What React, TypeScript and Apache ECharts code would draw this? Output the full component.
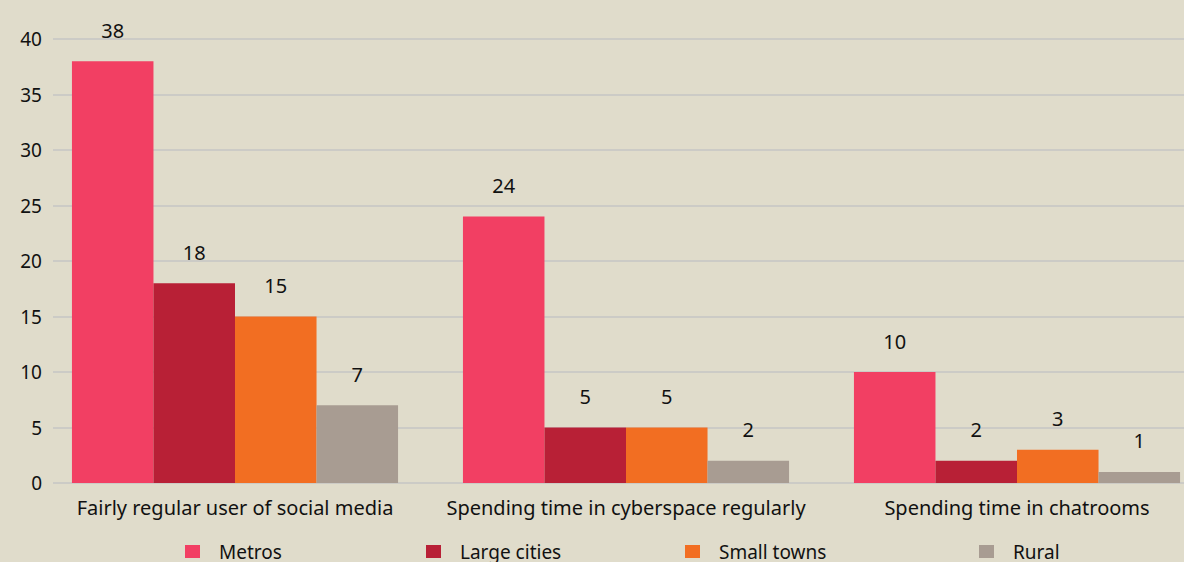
import React, { useEffect, useRef } from "react";
import * as echarts from "echarts";

const categories = [
  "Fairly regular user of social media",
  "Spending time in cyberspace regularly",
  "Spending time in chatrooms",
];
const seriesNames = ["Metros", "Large cities", "Small towns", "Rural"];
const metros = [38, 24, 10];
const largeCities = [18, 5, 2];
const smallTowns = [15, 5, 3];
const rural = [7, 2, 1];
const colors = ["#F23F63", "#B82036", "#F26E22", "#A89C92"];
const legendLefts = [185, 426, 685, 979];

const FONT = "Noto Sans";

export default function App() {
  const ref = useRef<HTMLDivElement>(null);
  useEffect(() => {
    document.body.style.margin = "0";
    const chart = echarts.init(ref.current!, null, { renderer: "svg" });
    const values = [metros, largeCities, smallTowns, rural];
    chart.setOption({
      animation: false,
      backgroundColor: "#E0DCCB",
      textStyle: { fontFamily: FONT },
      grid: [
        { left: 39.5, width: 1173, top: 39, bottom: 79, outerBoundsMode: "none", containLabel: false },
        { left: 53, right: 0, top: 39, bottom: 79, outerBoundsMode: "none", containLabel: false },
      ],
      xAxis: [
        {
          type: "category",
          gridIndex: 0,
          data: categories,
          axisLine: { show: false },
          axisTick: { show: false },
          axisLabel: { color: "#111", fontSize: 20, margin: 14, interval: 0, fontFamily: FONT },
        },
        {
          type: "category",
          gridIndex: 1,
          data: categories,
          show: false,
        },
      ],
      yAxis: [
        {
          type: "value",
          gridIndex: 0,
          min: 0,
          max: 40,
          interval: 5,
          show: false,
          splitLine: { show: false },
        },
        {
          type: "value",
          gridIndex: 1,
          min: 0,
          max: 40,
          interval: 5,
          axisLine: { show: false },
          axisTick: { show: false },
          axisLabel: { color: "#111", fontSize: 19, margin: 11, fontFamily: FONT },
          splitLine: { lineStyle: { color: "#CCCBC6", width: 2 } },
        },
      ],
      legend: seriesNames.map((n, i) => ({
        data: [n],
        left: legendLefts[i],
        top: 542,
        padding: 0,
        itemWidth: 15,
        itemHeight: 13,
        itemGap: 0,
        icon: "rect",
        textStyle: {
          color: "#111",
          fontSize: 19,
          lineHeight: 18,
          fontFamily: FONT,
          padding: [0, 0, 0, 14],
        },
      })),
      series: seriesNames.map((n, i) => ({
        name: n,
        type: "bar",
        xAxisIndex: 0,
        yAxisIndex: 0,
        data: values[i],
        barGap: "0%",
        barCategoryGap: "16.6%",
        itemStyle: { color: colors[i] },
        label: {
          show: true,
          position: "top",
          distance: 21,
          color: "#111",
          fontSize: 20,
          fontFamily: FONT,
        },
      })),
    });
    return () => chart.dispose();
  }, []);
  return <div ref={ref} style={{ width: 1184, height: 562 }} />;
}
